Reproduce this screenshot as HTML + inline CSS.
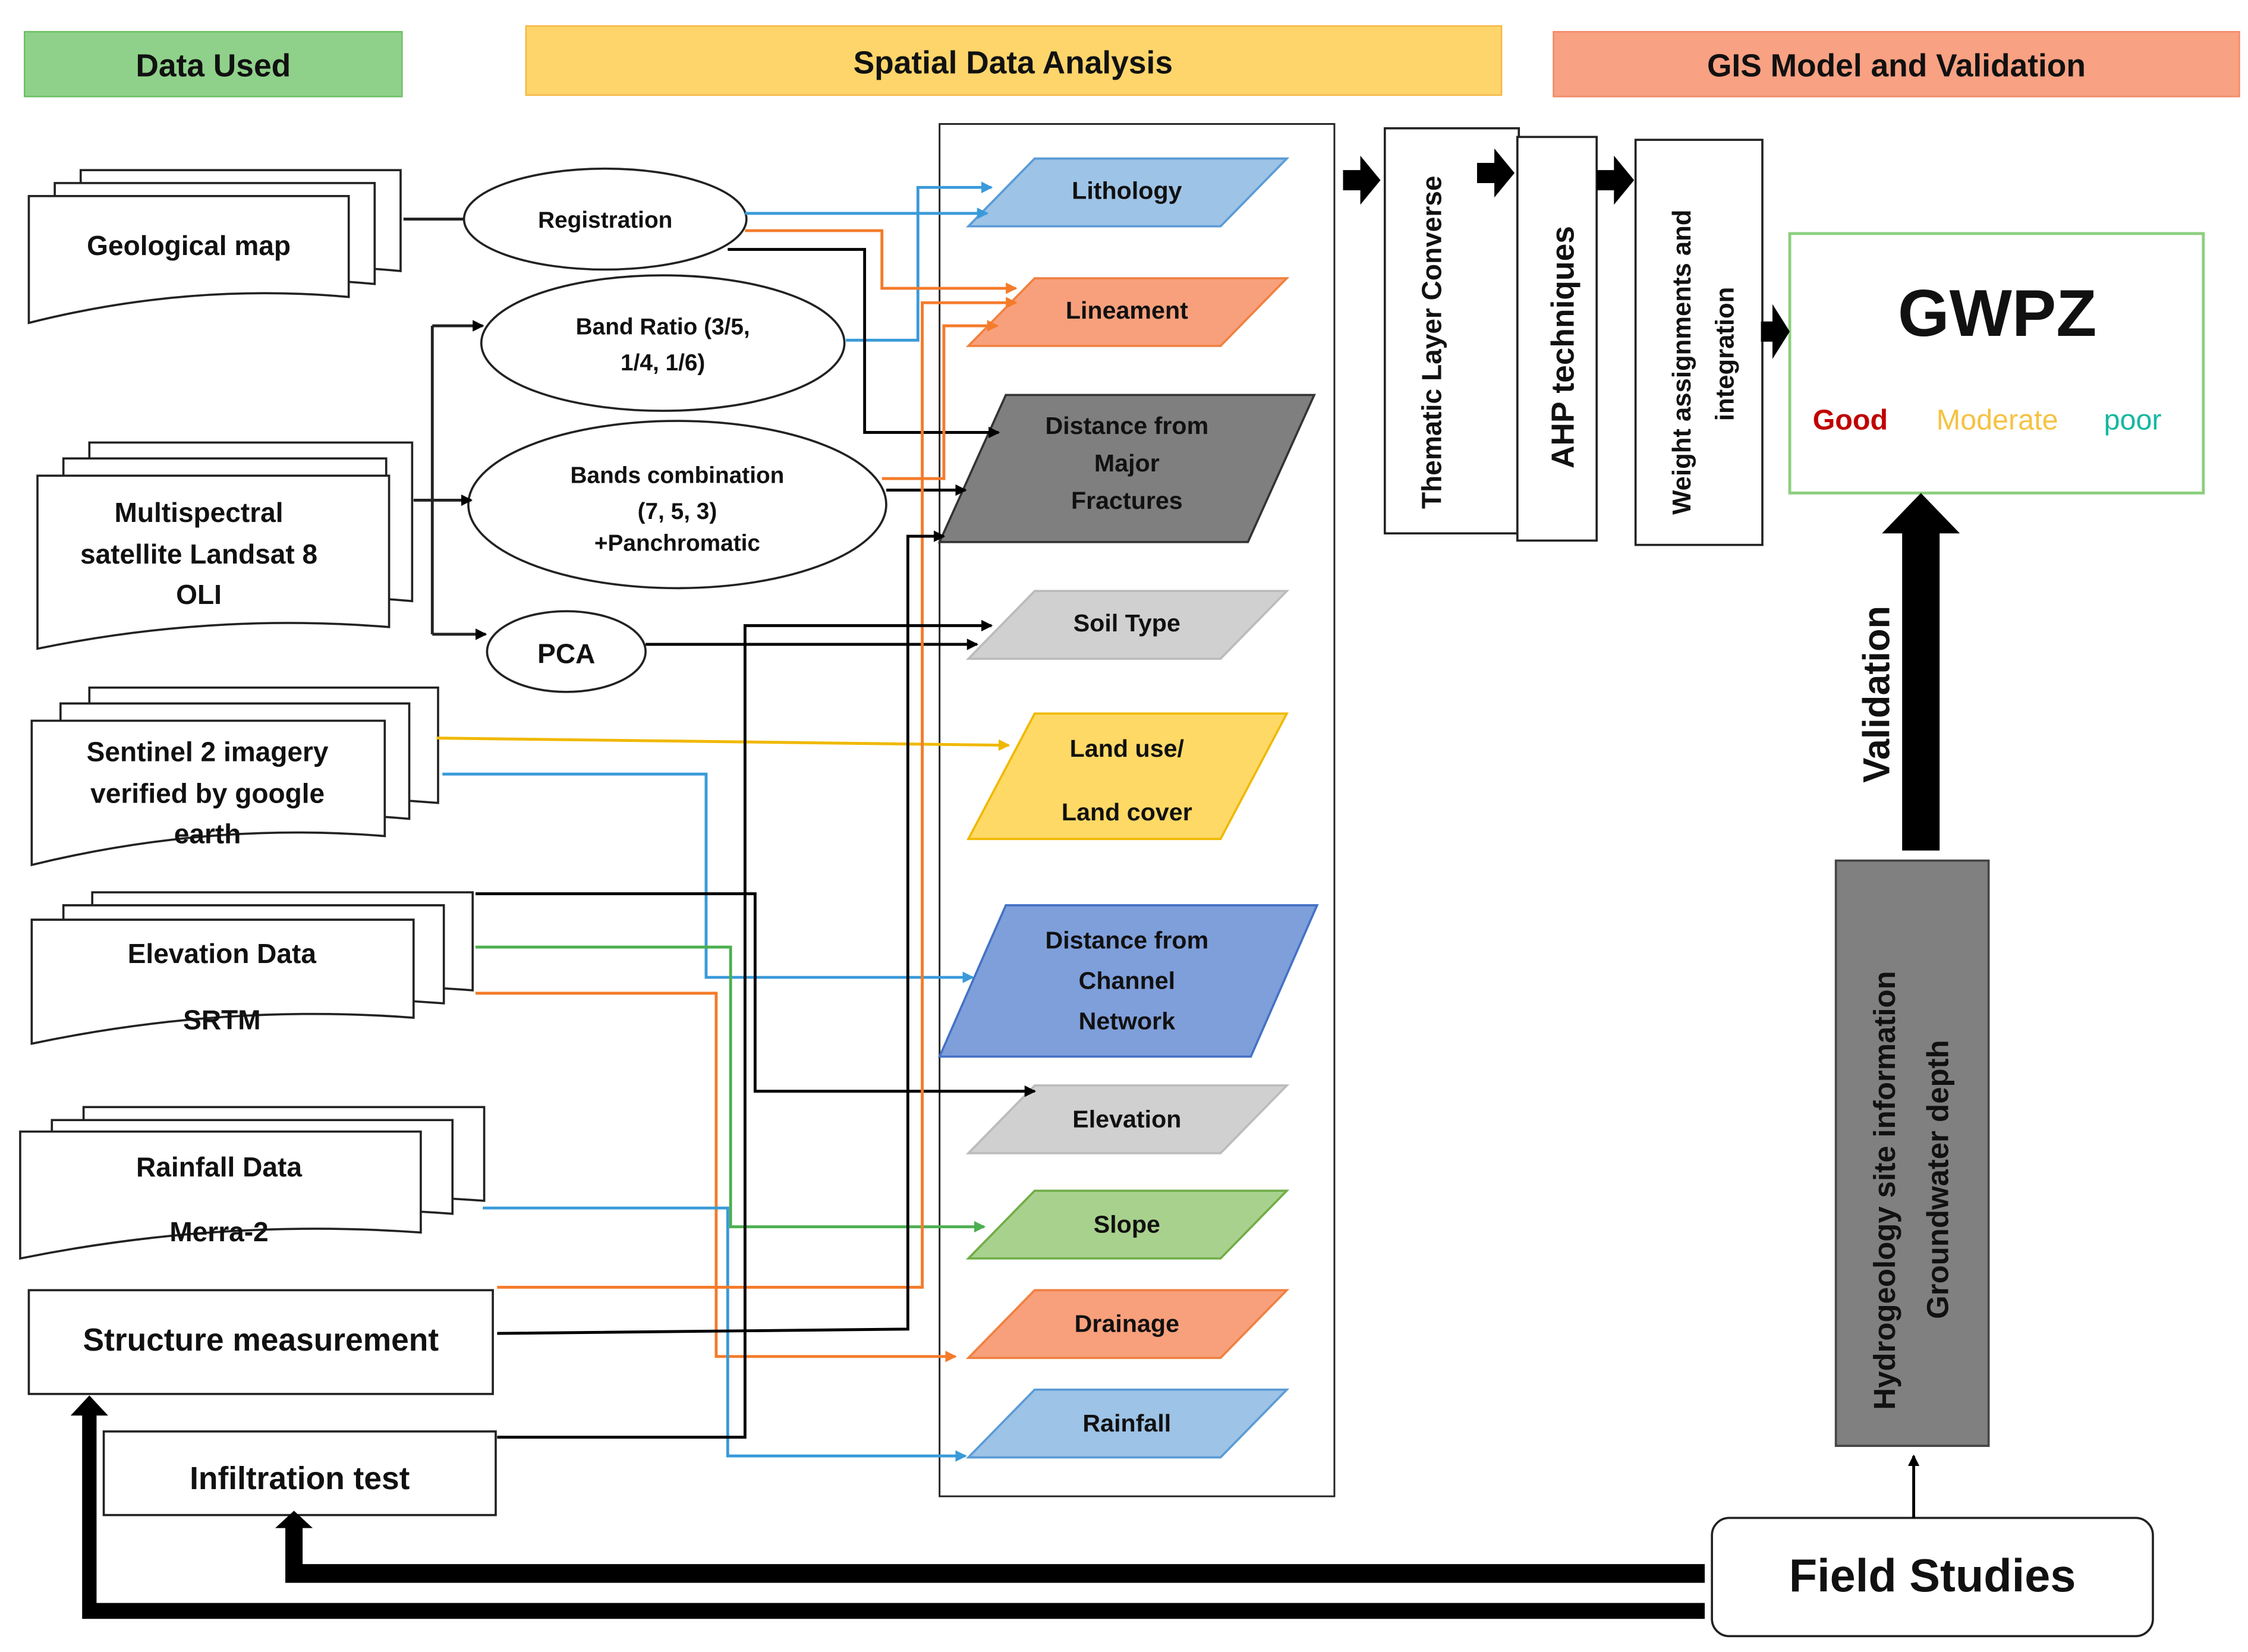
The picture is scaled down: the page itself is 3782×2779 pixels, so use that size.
<!DOCTYPE html>
<html><head><meta charset="utf-8"><style>html,body{margin:0;padding:0;background:#fff}svg{display:block}text{font-family:"Liberation Sans",sans-serif;font-weight:bold;fill:#111}</style></head>
<body>
<svg width="3782" height="2779" viewBox="0 0 1560 1146" preserveAspectRatio="none" xmlns="http://www.w3.org/2000/svg">
<defs>
<marker id="ak" markerWidth="8" markerHeight="8" refX="7" refY="4" orient="auto" markerUnits="userSpaceOnUse"><path d="M0,0L8,4L0,8z" fill="#000"/></marker>
<marker id="ab" markerWidth="8" markerHeight="8" refX="7" refY="4" orient="auto" markerUnits="userSpaceOnUse"><path d="M0,0L8,4L0,8z" fill="#3a9ad9"/></marker>
<marker id="ao" markerWidth="8" markerHeight="8" refX="7" refY="4" orient="auto" markerUnits="userSpaceOnUse"><path d="M0,0L8,4L0,8z" fill="#f47b2a"/></marker>
<marker id="ag" markerWidth="8" markerHeight="8" refX="7" refY="4" orient="auto" markerUnits="userSpaceOnUse"><path d="M0,0L8,4L0,8z" fill="#4caf50"/></marker>
<marker id="ay" markerWidth="8" markerHeight="8" refX="7" refY="4" orient="auto" markerUnits="userSpaceOnUse"><path d="M0,0L8,4L0,8z" fill="#f0b800"/></marker>
</defs>
<!-- headers -->
<rect x="17" y="22" width="262" height="45" fill="#8fd18a" stroke="#6cbf64"/>
<text x="148" y="53" font-size="22" text-anchor="middle">Data Used</text>
<rect x="365" y="18" width="677" height="48" fill="#fdd56b" stroke="#f5b642"/>
<text x="703" y="51" font-size="22" text-anchor="middle">Spatial Data Analysis</text>
<rect x="1078" y="22" width="476" height="45" fill="#f8a183" stroke="#f08a66"/>
<text x="1316" y="53" font-size="22" text-anchor="middle">GIS Model and Validation</text>

<g fill="#fff" stroke="#222" stroke-width="1.5">
<!-- Geological map -->
<path d="M56,118h222v70q-111,-10 -222,5z"/><path d="M38,127h222v70q-111,-10 -222,5z"/><path d="M20,136h222v70q-111,-10 -222,18z"/>
<!-- Multispectral -->
<path d="M62,307h224v110q-112,-10 -224,5z"/><path d="M44,318h224v110q-112,-10 -224,5z"/><path d="M26,330h244v105q-122,-10 -244,15z"/>
<!-- Sentinel -->
<path d="M62,477h242v80q-121,-10 -242,5z"/><path d="M42,488h242v80q-121,-10 -242,5z"/><path d="M22,500h245v80q-122,-10 -245,20z"/>
<!-- Elevation -->
<path d="M64,619h264v68q-132,-10 -264,5z"/><path d="M44,628h264v68q-132,-10 -264,5z"/><path d="M22,638h265v68q-132,-10 -265,18z"/>
<!-- Rainfall -->
<path d="M58,768h278v65q-139,-10 -278,5z"/><path d="M36,777h278v65q-139,-10 -278,5z"/><path d="M14,785h278v70q-139,-10 -278,18z"/>
<rect x="20" y="895" width="322" height="72"/>
<rect x="72" y="993" width="272" height="58"/>
<ellipse cx="420" cy="152" rx="98" ry="35"/>
<ellipse cx="460" cy="238" rx="126" ry="47"/>
<ellipse cx="470" cy="350" rx="145" ry="58"/>
<ellipse cx="393" cy="452" rx="55" ry="28"/>
<rect x="652" y="86" width="274" height="952" stroke-width="1.2"/>
<rect x="961" y="89" width="93" height="281"/>
<rect x="1053" y="95" width="55" height="280"/>
<rect x="1135" y="97" width="88" height="281"/>
<rect x="1188" y="1053" width="306" height="82" rx="12"/>
</g>
<rect x="1242" y="162" width="287" height="180" fill="#fff" stroke="#8ccf7e" stroke-width="2"/>
<rect x="1274" y="597" width="106" height="406" fill="#808080" stroke="#444" stroke-width="1.5"/>

<g font-size="19">
<text x="131" y="177" text-anchor="middle">Geological map</text>
<text x="138" y="362" text-anchor="middle">Multispectral</text>
<text x="138" y="391" text-anchor="middle">satellite Landsat 8</text>
<text x="138" y="419" text-anchor="middle">OLI</text>
<text x="144" y="528" text-anchor="middle">Sentinel 2 imagery</text>
<text x="144" y="557" text-anchor="middle">verified by google</text>
<text x="144" y="585" text-anchor="middle">earth</text>
<text x="154" y="668" text-anchor="middle">Elevation Data</text>
<text x="154" y="714" text-anchor="middle">SRTM</text>
<text x="152" y="816" text-anchor="middle">Rainfall Data</text>
<text x="152" y="861" text-anchor="middle">Merra-2</text>
<text x="181" y="937" text-anchor="middle" font-size="22">Structure measurement</text>
<text x="208" y="1033" text-anchor="middle" font-size="22">Infiltration test</text>
</g>
<g font-size="16" text-anchor="middle">
<text x="420" y="158">Registration</text>
<text x="460" y="232">Band Ratio (3/5,</text>
<text x="460" y="257">1/4, 1/6)</text>
<text x="470" y="335">Bands combination</text>
<text x="470" y="360">(7, 5, 3)</text>
<text x="470" y="382">+Panchromatic</text>
<text x="393" y="460" font-size="19">PCA</text>
</g>

<!-- parallelograms -->
<g stroke-width="1.5" font-size="17">
<path d="M718,110H893L847,157H672z" fill="#9dc3e6" stroke="#5b9bd5"/>
<path d="M718,193H893L847,240H672z" fill="#f8a07c" stroke="#f08040"/>
<path d="M698,274H912L866,376H652z" fill="#7f7f7f" stroke="#333"/>
<path d="M718,410H893L847,457H672z" fill="#d0d0d0" stroke="#bbb"/>
<path d="M718,495H893L847,582H672z" fill="#ffd966" stroke="#f0b800"/>
<path d="M698,628H914L868,733H652z" fill="#7f9fdb" stroke="#4472c4"/>
<path d="M718,753H893L847,800H672z" fill="#d0d0d0" stroke="#bbb"/>
<path d="M718,826H893L847,873H672z" fill="#a9d18e" stroke="#70ad47"/>
<path d="M718,895H893L847,942H672z" fill="#f8a07c" stroke="#f08040"/>
<path d="M718,964H893L847,1011H672z" fill="#9dc3e6" stroke="#5b9bd5"/>
</g>
<g font-size="17" text-anchor="middle">
<text x="782" y="138">Lithology</text>
<text x="782" y="221">Lineament</text>
<text x="782" y="301">Distance from</text>
<text x="782" y="327">Major</text>
<text x="782" y="353">Fractures</text>
<text x="782" y="438">Soil Type</text>
<text x="782" y="525">Land use/</text>
<text x="782" y="569">Land cover</text>
<text x="782" y="658">Distance from</text>
<text x="782" y="686">Channel</text>
<text x="782" y="714">Network</text>
<text x="782" y="782">Elevation</text>
<text x="782" y="855">Slope</text>
<text x="782" y="924">Drainage</text>
<text x="782" y="993">Rainfall</text>
</g>

<!-- connectors -->
<g fill="none" stroke-width="2">
<path d="M280,152H322" stroke="#222"/>
<path d="M517,148H685" stroke="#3a9ad9" marker-end="url(#ab)"/>
<path d="M587,236H637V130H688" stroke="#3a9ad9" marker-end="url(#ab)"/>
<path d="M517,160H612V200H705" stroke="#f47b2a" marker-end="url(#ao)"/>
<path d="M505,173H600V300H693" stroke="#000" marker-end="url(#ak)"/>
<path d="M287,347H300M300,226V440" stroke="#222"/>
<path d="M300,226H335" stroke="#222" marker-end="url(#ak)"/>
<path d="M300,347H327" stroke="#222" marker-end="url(#ak)"/>
<path d="M300,440H337" stroke="#222" marker-end="url(#ak)"/>
<path d="M615,340H670" stroke="#000" marker-end="url(#ak)"/>
<path d="M612,332H655V226H692" stroke="#f47b2a" marker-end="url(#ao)"/>
<path d="M448,447H678" stroke="#000" marker-end="url(#ak)"/>
<path d="M303,512L700,517" stroke="#f0b800" marker-end="url(#ay)"/>
<path d="M307,537H490V678H675" stroke="#3a9ad9" marker-end="url(#ab)"/>
<path d="M330,620H524V757H718" stroke="#000" marker-end="url(#ak)"/>
<path d="M330,657H507V851H683" stroke="#4caf50" marker-end="url(#ag)"/>
<path d="M330,689H497V941H663" stroke="#f47b2a" marker-end="url(#ao)"/>
<path d="M335,838H505V1010H670" stroke="#3a9ad9" marker-end="url(#ab)"/>
<path d="M345,893H640V210H705" stroke="#f47b2a" marker-end="url(#ao)"/>
<path d="M345,925L630,922V372H655" stroke="#000" marker-end="url(#ak)"/>
<path d="M345,997H517V434H688" stroke="#000" marker-end="url(#ak)"/>
<path d="M1328,1053V1010" stroke="#000" marker-end="url(#ak)"/>
</g>

<!-- block arrows -->
<g fill="#000">
<path d="M932,118h12v-10l14,17l-14,17v-10h-12z"/>
<path d="M1025,113h12v-10l14,17l-14,17v-10h-12z"/>
<path d="M1108,118h12v-10l14,17l-14,17v-10h-12z"/>
<path d="M1222,223h8v-12l12,19l-12,19v-12h-8z"/>
<path d="M1320,590V370h-14l27,-28l27,28h-14v220z"/>
<path d="M1183,1085H210V1060h7l-13,-12l-13,12h7v38H1183z"/>
<path d="M1183,1112H67V982h8l-13,-14l-13,14h8v141H1183z"/>
</g>

<!-- rotated texts -->
<text transform="translate(1000,353) rotate(-90)" font-size="19">Thematic Layer Converse</text>
<text transform="translate(1092,325) rotate(-90)" font-size="22">AHP techniques</text>
<text transform="translate(1173,357) rotate(-90)" font-size="18">Weight assignments and</text>
<text transform="translate(1203,292) rotate(-90)" font-size="18">integration</text>
<text transform="translate(1311,543) rotate(-90)" font-size="26">Validation</text>
<text transform="translate(1315,978) rotate(-90)" font-size="21">Hydrogeology site information</text>
<text transform="translate(1352,915) rotate(-90)" font-size="21">Groundwater depth</text>

<text x="1386" y="233" font-size="46" text-anchor="middle">GWPZ</text>
<text x="1284" y="298" font-size="20" text-anchor="middle" style="fill:#c00000">Good</text>
<text x="1386" y="298" font-size="20" text-anchor="middle" style="fill:#f5c242;font-weight:normal">Moderate</text>
<text x="1480" y="298" font-size="20" text-anchor="middle" style="fill:#14b8a0;font-weight:normal">poor</text>
<text x="1341" y="1104" font-size="32" text-anchor="middle">Field Studies</text>
</svg>
</body></html>
